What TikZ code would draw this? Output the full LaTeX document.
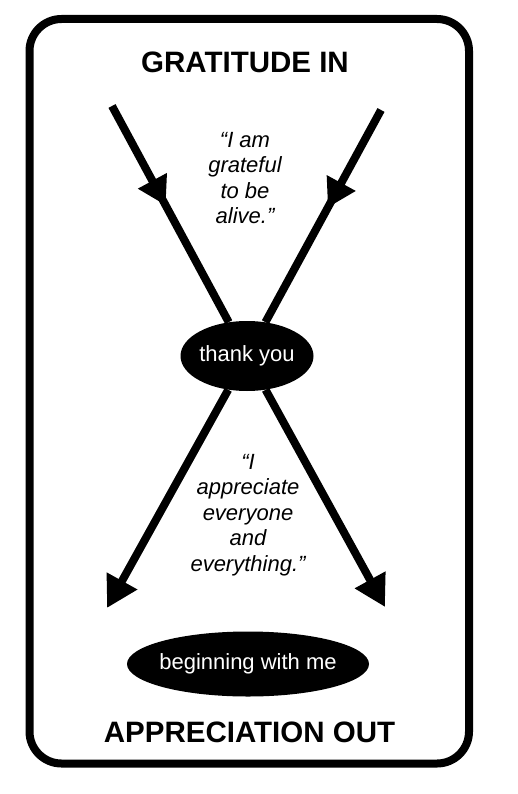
\documentclass[tikz,border=0pt]{standalone}
\usepackage{fontspec}
\setmainfont{Liberation Sans}
\usetikzlibrary{arrows.meta,decorations.markings,shapes.geometric}
\begin{document}
\begin{tikzpicture}[x=1pt,y=-1pt,
  frame/.style={line width=8pt, rounded corners=32pt},
  heading/.style={font=\fontsize{29.5}{34}\selectfont\bfseries, inner sep=0pt, anchor=base},
  blob/.style={ellipse, fill=black, text=white, inner xsep=-5pt, inner ysep=0pt,
    font=\fontsize{22}{26}\selectfont},
  quotetext/.style={align=center, inner sep=0pt, anchor=north,
    font=\fontsize{22}{25.5}\selectfont\itshape},
  flow/.style={line width=8pt},
  midarrow/.style={postaction={decorate}, decoration={markings,
    mark=at position #1 with {\arrow{Triangle[length=28pt,width=31pt]}}}},
  endarrow/.style={-{Triangle[length=31pt,width=33pt]}}
]
\useasboundingbox (0,0) rectangle (518,794);
\draw[frame] (29.5,19) rectangle (469,763.5);

\node[heading] (top) at (245,73) {GRATITUDE IN};
\node[heading] (bottom) at (249.5,742) {APPRECIATION OUT};

\node[blob, minimum width=133pt, minimum height=70pt] (ty) at (247,356) {thank you};
\node[blob, minimum width=242pt, minimum height=65pt] (me) at (248,664) {beginning with me};

\node[quotetext] (q1) at (245,132) {“I am\\grateful\\to be\\alive.”};
\node[quotetext] (q2) at (248,454) {“I\\appreciate\\everyone\\and\\everything.”};

\coordinate (tl) at (112,106);
\coordinate (tr) at (381,110);
\coordinate (bl) at (107,608);
\coordinate (br) at (385,607);

\draw[flow, midarrow=0.46] (tl) -- (ty);
\draw[flow, midarrow=0.46] (tr) -- (ty);
\draw[flow, endarrow] (ty) -- (bl);
\draw[flow, endarrow] (ty) -- (br);
\end{tikzpicture}
\end{document}
